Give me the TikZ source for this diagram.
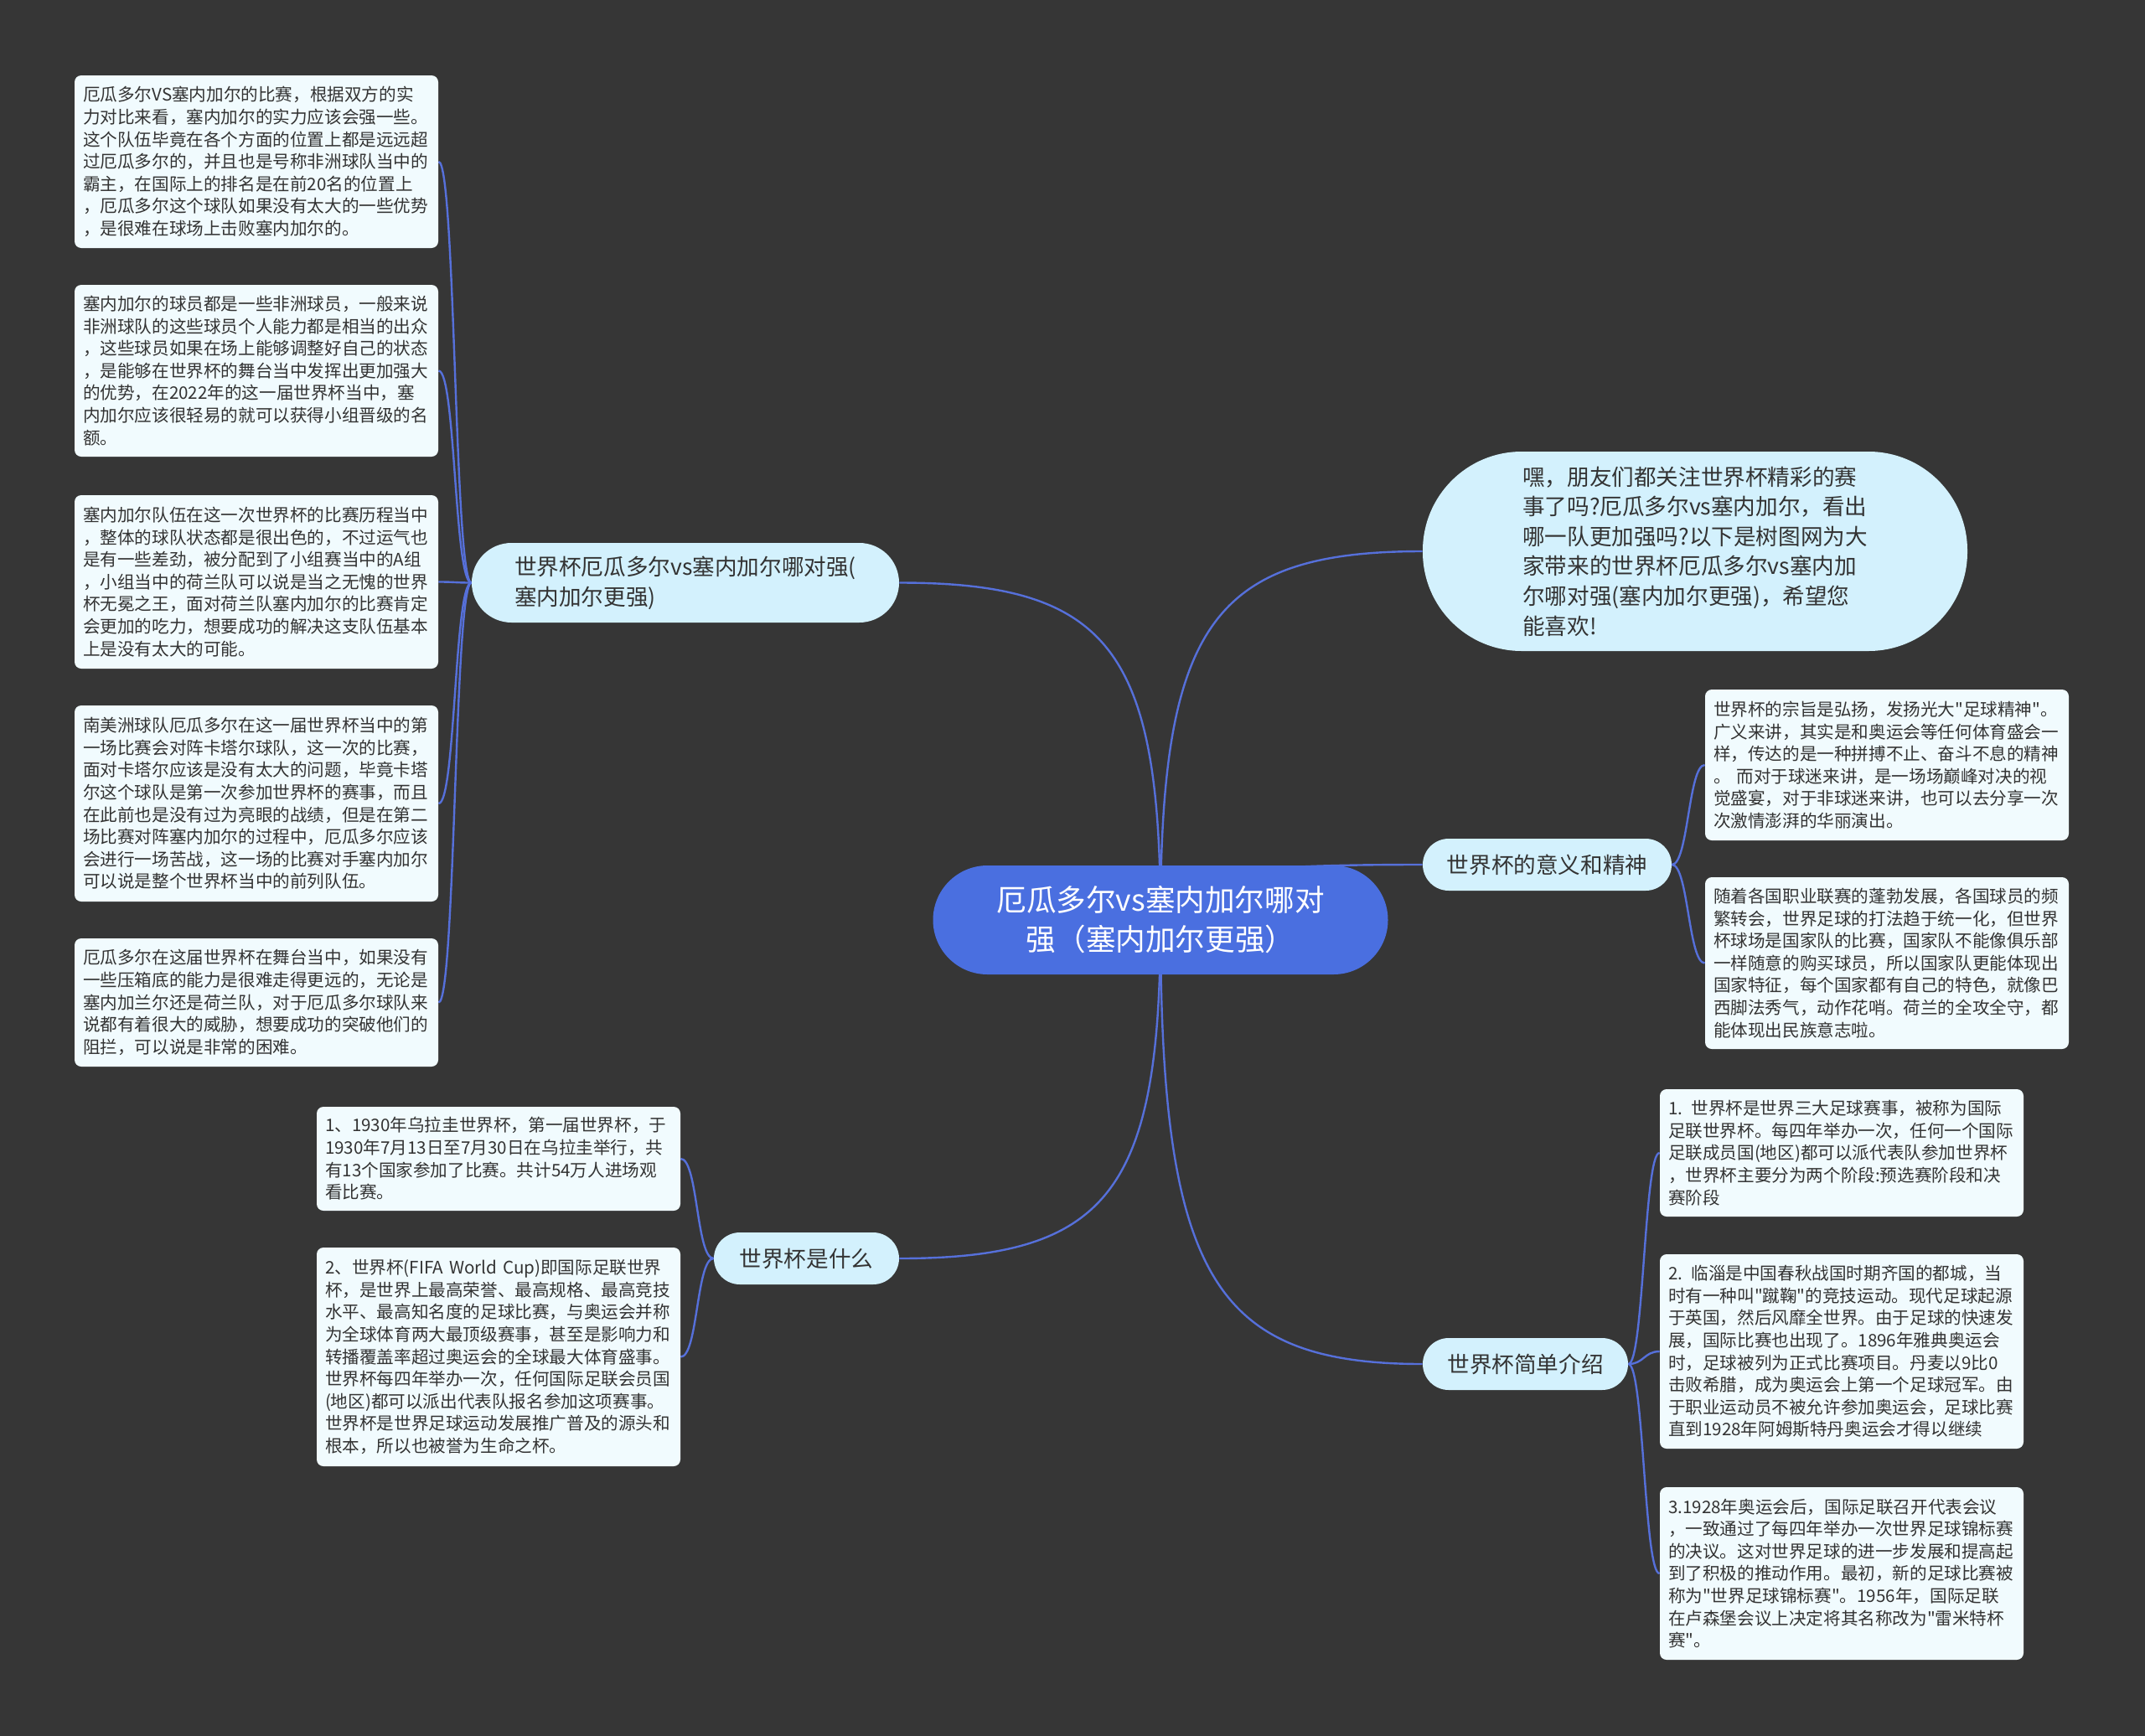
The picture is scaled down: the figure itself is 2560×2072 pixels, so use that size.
\documentclass[tikz,border=0pt]{standalone}
\usepackage{graphicx}
\usepackage{fontspec}
\setmainfont{Noto Sans CJK SC}[Ligatures=TeXOff]
\usetikzlibrary{backgrounds}
\definecolor{bgc}{HTML}{363636}
\definecolor{mainblue}{HTML}{4A6FE0}
\definecolor{linec}{HTML}{5670DA}
\definecolor{branchfill}{HTML}{D3F1FD}
\definecolor{leaffill}{HTML}{F1FBFE}
\definecolor{txt}{HTML}{333333}
\hfuzz=30pt
\hbadness=10000
\newlength\leafw
\setlength\leafw{207pt}
\newcommand\fl[1]{\sbox0{#1}\ifdim\wd0>\leafw\resizebox{\leafw}{\height}{#1}\else\usebox0\fi}
\begin{document}
\begin{tikzpicture}[x=0.5pt,y=-0.5pt,
  leafbox/.style={draw=none, fill=leaffill, rounded corners=4pt, text=txt,
    font=\fontsize{10.3}{13.3}\selectfont, align=left, text width=207pt,
    inner xsep=5pt, inner ysep=5pt, minimum width=217pt},
  branchbox/.style={draw=none, fill=branchfill, rounded corners=15.5pt, text=txt,
    font=\fontsize{13.3}{18}\selectfont, align=left, minimum height=31pt, inner sep=0pt},
  centerbox/.style={draw=none, fill=mainblue, rounded corners=32.5pt, text=white,
    font=\fontsize{17.8}{23.5}\selectfont, align=center, minimum width=271.5pt,
    minimum height=65pt, inner sep=0pt},
  introbox/.style={draw=none, fill=branchfill, rounded corners=59pt, text=txt,
    font=\fontsize{13.3}{17.8}\selectfont, align=left, minimum width=325pt,
    minimum height=119pt, inner sep=0pt},
  conn/.style={draw=linec, line width=1.2pt}
]
\useasboundingbox (0,0) rectangle (2560,2072);

% central node
\node[centerbox] (c) at (1385,1098) {厄瓜多尔vs塞内加尔哪对\\强（塞内加尔更强）};

% intro
\node[introbox] (intro) at (2023,658) {嘿，朋友们都关注世界杯精彩的赛\\事了吗?厄瓜多尔vs塞内加尔，看出\\哪一队更加强吗?以下是树图网为大\\家带来的世界杯厄瓜多尔vs塞内加\\尔哪对强(塞内加尔更强)，希望您\\能喜欢!};

% branches
\node[branchbox, minimum width=255pt, minimum height=47.5pt, rounded corners=23.75pt] (b1) at (818,695.5) {世界杯厄瓜多尔vs塞内加尔哪对强(\\塞内加尔更强)};
\node[branchbox, minimum width=148.5pt, align=center] (bmean) at (1846.5,1032) {世界杯的意义和精神};
\node[branchbox, minimum width=110.5pt, align=center] (bwhat) at (962.5,1502) {世界杯是什么};
\node[branchbox, minimum width=122.5pt, align=center] (bintro) at (1820.5,1628) {世界杯简单介绍};

% left leaves
\node[leafbox, minimum height=103pt] (l1) at (306,193) {\fl{厄瓜多尔VS塞内加尔的比赛，根据双方的实}\\\fl{力对比来看，塞内加尔的实力应该会强一些。}\\\fl{这个队伍毕竟在各个方面的位置上都是远远超}\\\fl{过厄瓜多尔的，并且也是号称非洲球队当中的}\\\fl{霸主，在国际上的排名是在前20名的位置上}\\\fl{，厄瓜多尔这个球队如果没有太大的一些优势}\\\fl{，是很难在球场上击败塞内加尔的。}};
\node[leafbox, minimum height=102.5pt] (l2) at (306,442.5) {\fl{塞内加尔的球员都是一些非洲球员，一般来说}\\\fl{非洲球队的这些球员个人能力都是相当的出众}\\\fl{，这些球员如果在场上能够调整好自己的状态}\\\fl{，是能够在世界杯的舞台当中发挥出更加强大}\\\fl{的优势，在2022年的这一届世界杯当中，塞}\\\fl{内加尔应该很轻易的就可以获得小组晋级的名}\\\fl{额。}};
\node[leafbox, minimum height=103.5pt] (l3) at (306,694.5) {\fl{塞内加尔队伍在这一次世界杯的比赛历程当中}\\\fl{，整体的球队状态都是很出色的，不过运气也}\\\fl{是有一些差劲，被分配到了小组赛当中的A组}\\\fl{，小组当中的荷兰队可以说是当之无愧的世界}\\\fl{杯无冕之王，面对荷兰队塞内加尔的比赛肯定}\\\fl{会更加的吃力，想要成功的解决这支队伍基本}\\\fl{上是没有太大的可能。}};
\node[leafbox, minimum height=117pt] (l4) at (306,959) {\fl{南美洲球队厄瓜多尔在这一届世界杯当中的第}\\\fl{一场比赛会对阵卡塔尔球队，这一次的比赛，}\\\fl{面对卡塔尔应该是没有太大的问题，毕竟卡塔}\\\fl{尔这个球队是第一次参加世界杯的赛事，而且}\\\fl{在此前也是没有过为亮眼的战绩，但是在第二}\\\fl{场比赛对阵塞内加尔的过程中，厄瓜多尔应该}\\\fl{会进行一场苦战，这一场的比赛对手塞内加尔}\\\fl{可以说是整个世界杯当中的前列队伍。}};
\node[leafbox, minimum height=76.5pt] (l5) at (306,1196.5) {\fl{厄瓜多尔在这届世界杯在舞台当中，如果没有}\\\fl{一些压箱底的能力是很难走得更远的，无论是}\\\fl{塞内加兰尔还是荷兰队，对于厄瓜多尔球队来}\\\fl{说都有着很大的威胁，想要成功的突破他们的}\\\fl{阻拦，可以说是非常的困难。}};

% what leaves
\node[leafbox, minimum height=62pt] (w1) at (595,1383) {\fl{1、1930年乌拉圭世界杯，第一届世界杯，于}\\\fl{1930年7月13日至7月30日在乌拉圭举行，共}\\\fl{有13个国家参加了比赛。共计54万人进场观}\\\fl{看比赛。}};
\node[leafbox, minimum height=130.5pt] (w2) at (595,1619.5) {\fl{2、世界杯(FIFA World Cup)即国际足联世界}\\\fl{杯，是世界上最高荣誉、最高规格、最高竞技}\\\fl{水平、最高知名度的足球比赛，与奥运会并称}\\\fl{为全球体育两大最顶级赛事，甚至是影响力和}\\\fl{转播覆盖率超过奥运会的全球最大体育盛事。}\\\fl{世界杯每四年举办一次，任何国际足联会员国}\\\fl{(地区)都可以派出代表队报名参加这项赛事。}\\\fl{世界杯是世界足球运动发展推广普及的源头和}\\\fl{根本，所以也被誉为生命之杯。}};

% meaning leaves
\node[leafbox, minimum height=90pt] (m1) at (2252,913) {\fl{世界杯的宗旨是弘扬，发扬光大"足球精神"。}\\\fl{广义来讲，其实是和奥运会等任何体育盛会一}\\\fl{样，传达的是一种拼搏不止、奋斗不息的精神}\\\fl{。\ 而对于球迷来讲，是一场场巅峰对决的视}\\\fl{觉盛宴，对于非球迷来讲，也可以去分享一次}\\\fl{次激情澎湃的华丽演出。}};
\node[leafbox, minimum height=102.5pt] (m2) at (2252,1149.5) {\fl{随着各国职业联赛的蓬勃发展，各国球员的频}\\\fl{繁转会，世界足球的打法趋于统一化，但世界}\\\fl{杯球场是国家队的比赛，国家队不能像俱乐部}\\\fl{一样随意的购买球员，所以国家队更能体现出}\\\fl{国家特征，每个国家都有自己的特色，就像巴}\\\fl{西脚法秀气，动作花哨。荷兰的全攻全守，都}\\\fl{能体现出民族意志啦。}};

% intro leaves
\node[leafbox, minimum height=76pt] (j1) at (2198,1376) {\fl{1. 世界杯是世界三大足球赛事，被称为国际}\\\fl{足联世界杯。每四年举办一次，任何一个国际}\\\fl{足联成员国(地区)都可以派代表队参加世界杯}\\\fl{，世界杯主要分为两个阶段:预选赛阶段和决}\\\fl{赛阶段}};
\node[leafbox, minimum height=116pt] (j2) at (2198,1613) {\fl{2. 临淄是中国春秋战国时期齐国的都城，当}\\\fl{时有一种叫"蹴鞠"的竞技运动。现代足球起源}\\\fl{于英国，然后风靡全世界。由于足球的快速发}\\\fl{展，国际比赛也出现了。1896年雅典奥运会}\\\fl{时，足球被列为正式比赛项目。丹麦以9比0}\\\fl{击败希腊，成为奥运会上第一个足球冠军。由}\\\fl{于职业运动员不被允许参加奥运会，足球比赛}\\\fl{直到1928年阿姆斯特丹奥运会才得以继续}};
\node[leafbox, minimum height=103pt] (j3) at (2198,1878) {\fl{3.1928年奥运会后，国际足联召开代表会议}\\\fl{，一致通过了每四年举办一次世界足球锦标赛}\\\fl{的决议。这对世界足球的进一步发展和提高起}\\\fl{到了积极的推动作用。最初，新的足球比赛被}\\\fl{称为"世界足球锦标赛"。1956年，国际足联}\\\fl{在卢森堡会议上决定将其名称改为"雷米特杯}\\\fl{赛"。}};

\begin{scope}[on background layer]
  \fill[bgc] (0,0) rectangle (2560,2072);
  % center connectors
  \draw[conn] (c.center) .. controls +(0,-352) and +(-250,0) .. (intro.west);
  \draw[conn] (c.center) .. controls +(0,-322) and +(250,0) .. (b1.east);
  \draw[conn] (c.center) .. controls +(0,-53) and +(-250,0) .. (bmean.west);
  \draw[conn] (c.center) .. controls +(0,323) and +(250,0) .. (bwhat.east);
  \draw[conn] (c.center) .. controls +(0,424) and +(-250,0) .. (bintro.west);
  % leaf connectors
  \foreach \n in {l1,l2,l3,l4,l5}
    \draw[conn] (b1.west) .. controls +(-20.5,0) and +(20.5,0) .. (\n.east);
  \foreach \n in {w1,w2}
    \draw[conn] (bwhat.west) .. controls +(-20.5,0) and +(20.5,0) .. (\n.east);
  \foreach \n in {m1,m2}
    \draw[conn] (bmean.east) .. controls +(19.5,0) and +(-19.5,0) .. (\n.west);
  \foreach \n in {j1,j2,j3}
    \draw[conn] (bintro.east) .. controls +(18.5,0) and +(-18.5,0) .. (\n.west);
\end{scope}
\end{tikzpicture}
\end{document}
